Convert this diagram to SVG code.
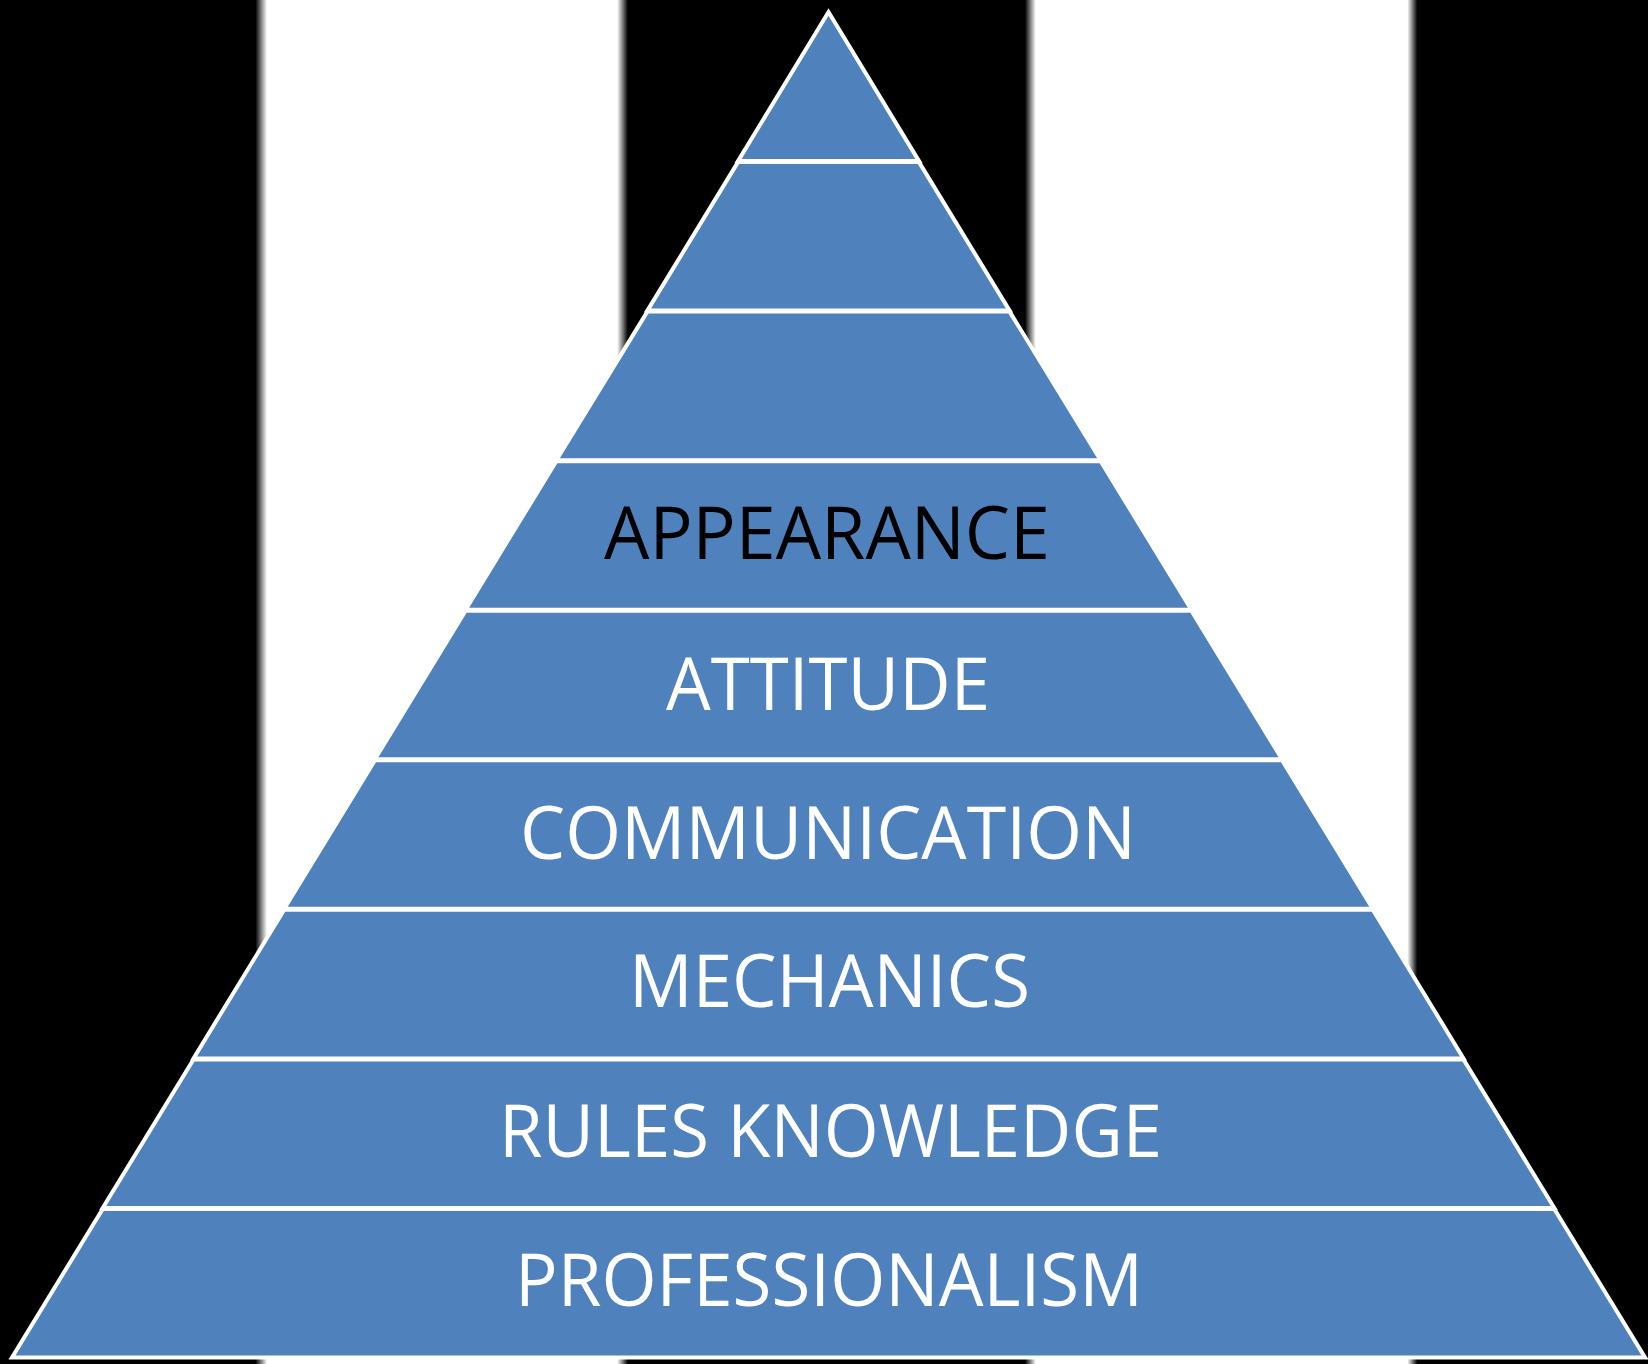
<svg xmlns="http://www.w3.org/2000/svg" width="1648" height="1364" viewBox="0 0 1648 1364">
<style>
.seg{fill:#4F81BD;stroke:#FFFFFF;stroke-width:4;stroke-linejoin:miter;stroke-miterlimit:10}
.lbl{font-family:"Open Sans","Noto Sans","Liberation Sans",sans-serif;font-size:74px;text-anchor:middle;fill:#FFFFFF}
.dark{fill:#000000}
</style>
<defs>
<linearGradient id="bg" gradientUnits="userSpaceOnUse" x1="0" y1="0" x2="1648" y2="0">
<stop offset="0" stop-color="#000"/>
<stop offset="0.1550" stop-color="#000"/>
<stop offset="0.1620" stop-color="#fff"/>
<stop offset="0.3745" stop-color="#fff"/>
<stop offset="0.3810" stop-color="#000"/>
<stop offset="0.6220" stop-color="#000"/>
<stop offset="0.6285" stop-color="#fff"/>
<stop offset="0.8540" stop-color="#fff"/>
<stop offset="0.8600" stop-color="#000"/>
<stop offset="1" stop-color="#000"/>
</linearGradient>
</defs>
<rect x="0" y="0" width="1648" height="1364" fill="url(#bg)"/>
<g id="pyramid">
<g id="level1"><polygon class="seg" points="828.5,12 919,161.1 738,161.1"/></g>
<g id="level2"><polygon class="seg" points="738,162.1 919,162.1 1009.6,310.6 647.4,310.6"/></g>
<g id="level3"><polygon class="seg" points="647.4,311.6 1009.6,311.6 1100.7,460.2 556.3,460.2"/></g>
<g id="level4"><polygon class="seg" points="556.3,461.2 1100.7,461.2 1191.4,609.7 465.6,609.7"/>
<text class="lbl dark" x="827" y="559" textLength="446" lengthAdjust="spacingAndGlyphs">APPEARANCE</text></g>
<g id="level5"><polygon class="seg" points="465.6,610.7 1191.4,610.7 1282.1,759.3 374.9,759.3"/>
<text class="lbl" x="828" y="710" textLength="324" lengthAdjust="spacingAndGlyphs">ATTITUDE</text></g>
<g id="level6"><polygon class="seg" points="374.9,760.3 1282.1,760.3 1372.8,908.8 284.2,908.8"/>
<text class="lbl" x="828" y="859" textLength="616" lengthAdjust="spacingAndGlyphs">COMMUNICATION</text></g>
<g id="level7"><polygon class="seg" points="284.2,909.8 1372.8,909.8 1463.5,1058.4 193.5,1058.4"/>
<text class="lbl" x="829.5" y="1007" textLength="401" lengthAdjust="spacingAndGlyphs">MECHANICS</text></g>
<g id="level8"><polygon class="seg" points="193.5,1059.4 1463.5,1059.4 1554.3,1207.9 102.7,1207.9"/>
<text class="lbl" x="830.5" y="1157" textLength="663" lengthAdjust="spacingAndGlyphs">RULES KNOWLEDGE</text></g>
<g id="level9"><polygon class="seg" points="102.7,1208.9 1554.3,1208.9 1645,1357.5 12,1357.5"/>
<text class="lbl" x="829" y="1306" textLength="628" lengthAdjust="spacingAndGlyphs">PROFESSIONALISM</text></g>
</g>
<g id="connectors"/>
</svg>
